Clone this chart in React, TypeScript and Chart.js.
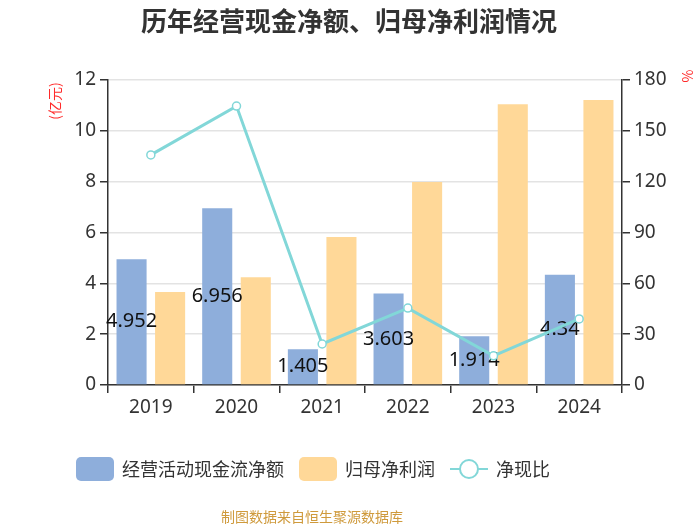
import React, { useEffect, useRef } from "react";
import { Chart, registerables } from "chart.js";

Chart.register(...registerables);

const years = ["2019", "2020", "2021", "2022", "2023", "2024"];
const cashFlow = [4.952, 6.956, 1.405, 3.603, 1.914, 4.34];
const netProfit = [3.66, 4.24, 5.82, 7.99, 11.05, 11.21];
const ratio = [135.8, 164.6, 24.2, 45.4, 17.2, 39.0];
const leftTicks = { min: 0, max: 12, step: 2 };
const rightTicks = { min: 0, max: 180, step: 30 };

const TITLE = "历年经营现金净额、归母净利润情况";
const FOOTER = "制图数据来自恒生聚源数据库";
const LEFT_UNIT = "(亿元)";
const RIGHT_UNIT = "%";

const BLUE = "#8eaedb";
const ORANGE = "#ffd898";
const TEAL = "#82d7d8";
const TEXT = "#333333";
const CJK = '"Noto Sans CJK SC", "Noto Sans", sans-serif';
const NUM = '"Noto Sans", "Noto Sans CJK SC", sans-serif';

const decorPlugin = {
  id: "decor",
  afterDatasetDraw(chart: any, args: any) {
    if (args.index !== 1) return;
    const ctx = chart.ctx;
    const meta = chart.getDatasetMeta(1);
    const data = chart.data.datasets[1].data;
    ctx.save();
    ctx.font = `20px ${NUM}`;
    ctx.fillStyle = "#111";
    ctx.textAlign = "center";
    ctx.textBaseline = "middle";
    meta.data.forEach((el: any, i: number) => {
      const y = (el.y + el.base) / 2;
      ctx.fillText(String(data[i]), el.x, y);
    });
    ctx.restore();
  },
  afterDraw(chart: any) {
    const ctx = chart.ctx;
    ctx.save();
    // title
    ctx.font = `bold 26px ${CJK}`;
    ctx.fillStyle = TEXT;
    ctx.textAlign = "center";
    ctx.textBaseline = "middle";
    ctx.fillText(TITLE, 349, 21);

    // axis units
    ctx.font = `14px ${CJK}`;
    ctx.fillStyle = "#ff2a2a";
    ctx.save();
    ctx.translate(55, 101);
    ctx.rotate(-Math.PI / 2);
    ctx.fillText(LEFT_UNIT, 0, 0);
    ctx.restore();
    ctx.save();
    ctx.translate(688, 76);
    ctx.rotate(-Math.PI / 2);
    ctx.fillText(RIGHT_UNIT, 0, 0);
    ctx.restore();

    // legend
    const ds = chart.data.datasets;
    const items = [ds[1], ds[2], ds[0]];
    ctx.font = `18px ${CJK}`;
    const boxW = 38;
    const gapText = 8;
    const gapItem = 15;
    const widths = items.map((d: any) => boxW + gapText + ctx.measureText(d.label).width);
    const total = widths.reduce((a: number, b: number) => a + b, 0) + gapItem * (items.length - 1);
    let x = 313 - total / 2;
    const cy = 469;
    items.forEach((d: any, i: number) => {
      if (d.type === "line") {
        ctx.strokeStyle = TEAL;
        ctx.lineWidth = 2;
        ctx.beginPath();
        ctx.moveTo(x, cy);
        ctx.lineTo(x + boxW, cy);
        ctx.stroke();
        ctx.beginPath();
        ctx.arc(x + boxW / 2, cy, 9, 0, Math.PI * 2);
        ctx.fillStyle = "#fff";
        ctx.fill();
        ctx.stroke();
      } else {
        ctx.fillStyle = d.backgroundColor;
        ctx.beginPath();
        (ctx as any).roundRect(x, cy - 12, boxW, 24, 5);
        ctx.fill();
      }
      ctx.fillStyle = TEXT;
      ctx.textAlign = "left";
      ctx.textBaseline = "middle";
      ctx.fillText(d.label, x + boxW + gapText, cy);
      x += widths[i] + gapItem;
    });

    // footer
    ctx.font = `14px ${CJK}`;
    ctx.fillStyle = "#cf9a3c";
    ctx.textAlign = "center";
    ctx.fillText(FOOTER, 312, 517);
    ctx.restore();
  },
};

export default function App() {
  const ref = useRef<HTMLCanvasElement>(null);
  useEffect(() => {
    if (!ref.current) return;
    const chart = new Chart(ref.current, {
      type: "bar",
      data: {
        labels: years,
        datasets: [
          {
            type: "line",
            label: "净现比",
            data: ratio,
            yAxisID: "y1",
            borderColor: TEAL,
            borderWidth: 3,
            pointRadius: 4,
            pointBackgroundColor: "#fff",
            pointBorderColor: TEAL,
            pointBorderWidth: 1.5,
            tension: 0,
            order: 0,
          } as any,
          {
            type: "bar",
            label: "经营活动现金流净额",
            data: cashFlow,
            yAxisID: "y",
            backgroundColor: BLUE,
            categoryPercentage: 0.9,
            barPercentage: 0.78,
            order: 1,
          },
          {
            type: "bar",
            label: "归母净利润",
            data: netProfit,
            yAxisID: "y",
            backgroundColor: ORANGE,
            categoryPercentage: 0.9,
            barPercentage: 0.78,
            order: 2,
          },
        ],
      },
      options: {
        responsive: false,
        animation: false,
        layout: { padding: { top: 80, bottom: 100, left: 0, right: 0 } },
        plugins: {
          legend: { display: false },
          title: { display: false },
          tooltip: { enabled: false },
        },
        scales: {
          x: {
            offset: true,
            grid: { drawOnChartArea: false, tickColor: TEXT, tickLength: 8, lineWidth: 1.5 },
            border: { color: TEXT, width: 1.5 },
            ticks: { color: TEXT, font: { size: 19, family: NUM }, padding: 3 },
            afterFit: (s: any) => {
              s.height = 40;
            },
          },
          y: {
            position: "left",
            min: leftTicks.min,
            max: leftTicks.max,
            ticks: { stepSize: leftTicks.step, color: TEXT, font: { size: 19, family: NUM }, padding: 4 },
            grid: { color: "#e3e3e3", lineWidth: 1.5, tickColor: TEXT, tickLength: 8 },
            border: { color: TEXT, width: 1.5 },
            afterFit: (s: any) => {
              s.width = 108;
            },
          },
          y1: {
            position: "right",
            min: rightTicks.min,
            max: rightTicks.max,
            ticks: { stepSize: rightTicks.step, color: TEXT, font: { size: 19, family: NUM }, padding: 4 },
            grid: { drawOnChartArea: false, tickColor: TEXT, tickLength: 8, lineWidth: 1.5 },
            border: { color: TEXT, width: 1.5 },
            afterFit: (s: any) => {
              s.width = 78;
            },
          },
        },
      },
      plugins: [decorPlugin],
    });
    return () => chart.destroy();
  }, []);
  return (
    <div style={{ position: "absolute", left: 0, top: 0, width: 700, height: 525, background: "#fff" }}>
      <canvas ref={ref} width={700} height={525} />
    </div>
  );
}
